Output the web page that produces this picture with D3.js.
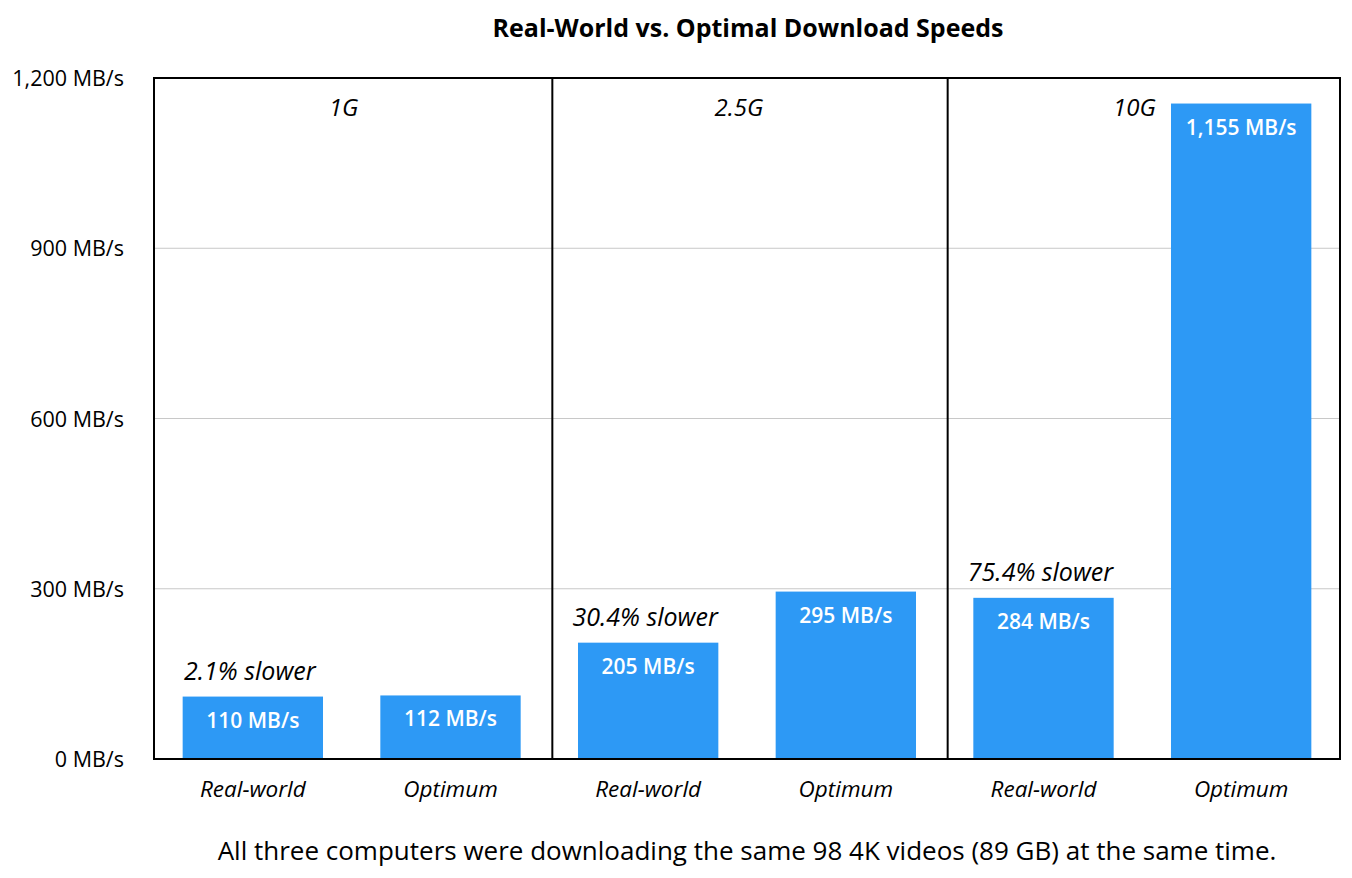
<!DOCTYPE html>
<html>
<body style="margin:0;background:#fff">
<div id="chart"></div>
<script src="https://d3js.org/d3.v7.min.js"></script>
<script>
// data
var categories = ["Real-world", "Optimum", "Real-world", "Optimum", "Real-world", "Optimum"];
var speeds = [110, 112, 205, 295, 284, 1155];
var groups = ["1G", "2.5G", "10G"];
var slowerNotes = ["2.1% slower", "30.4% slower", "75.4% slower"];
var yTicks = [0, 300, 600, 900, 1200];

var W = 1352, H = 878;
var m = { left: 154, right: 12, top: 78, bottom: 119 };
var font = "'Open Sans', sans-serif";

var svg = d3.select("#chart").append("svg")
    .attr("width", W).attr("height", H)
    .style("font-family", font);

var x = d3.scaleBand()
    .domain(d3.range(speeds.length))
    .range([m.left, W - m.right])
    .paddingInner(0.29)
    .paddingOuter(0.145);

var y = d3.scaleLinear()
    .domain([0, 1200])
    .range([H - m.bottom, m.top]);

var fmt = d3.format(",");

// gridlines
svg.selectAll(".grid").data(yTicks.slice(1, -1)).join("line")
    .attr("x1", m.left).attr("x2", W - m.right)
    .attr("y1", d => y(d)).attr("y2", d => y(d))
    .attr("stroke", "#c8c8c8").attr("stroke-width", 1);

// y tick labels
svg.selectAll(".ytick").data(yTicks).join("text")
    .attr("x", m.left - 30).attr("y", d => y(d) + 8)
    .attr("text-anchor", "end")
    .style("font-size", "21.5px")
    .text(d => fmt(d) + " MB/s");

// bars
svg.selectAll(".bar").data(speeds).join("rect")
    .attr("x", (d, i) => x(i))
    .attr("width", x.bandwidth())
    .attr("y", d => y(d))
    .attr("height", d => y(0) - y(d))
    .attr("fill", "#2d99f5");

svg.selectAll(".val").data(speeds).join("text")
    .attr("x", (d, i) => x(i) + x.bandwidth() / 2)
    .attr("y", d => y(d) + 31)
    .attr("text-anchor", "middle")
    .attr("fill", "#fff")
    .style("font-size", "21px").style("font-weight", "600")
    .text(d => fmt(d) + " MB/s");

// x labels
svg.selectAll(".xlab").data(categories).join("text")
    .attr("x", (d, i) => x(i) + x.bandwidth() / 2)
    .attr("y", H - m.bottom + 38)
    .attr("text-anchor", "middle")
    .style("font-size", "22.5px").style("font-style", "italic")
    .text(d => d);

// slower notes above real-world bars
svg.selectAll(".note").data(slowerNotes).join("text")
    .attr("x", (d, i) => x(i * 2) + x.bandwidth() / 2 - 3)
    .attr("y", (d, i) => y(speeds[i * 2]) - 17)
    .attr("text-anchor", "middle")
    .style("font-size", "25px").style("font-style", "italic")
    .text(d => d);

// group dividers + names
var step = x.step();
svg.selectAll(".div").data([1, 2]).join("line")
    .attr("x1", d => m.left + d * 2 * step + 3).attr("x2", d => m.left + d * 2 * step + 3)
    .attr("y1", m.top).attr("y2", y(0))
    .attr("stroke", "#000").attr("stroke-width", 2);

svg.selectAll(".grp").data(groups).join("text")
    .attr("x", (d, i) => m.left + (i * 2 + 1) * step - 8)
    .attr("y", m.top + 38)
    .attr("text-anchor", "middle")
    .style("font-size", "24px").style("font-style", "italic")
    .text(d => d);

// frame
svg.append("rect")
    .attr("x", m.left).attr("y", m.top)
    .attr("width", W - m.right - m.left).attr("height", y(0) - m.top)
    .attr("fill", "none").attr("stroke", "#000").attr("stroke-width", 2);

// title + footnote
svg.append("text")
    .attr("x", 748).attr("y", 37)
    .attr("text-anchor", "middle")
    .style("font-size", "25px").style("font-weight", "bold")
    .text("Real-World vs. Optimal Download Speeds");

svg.append("text")
    .attr("x", 747).attr("y", 860)
    .attr("text-anchor", "middle")
    .style("font-size", "26px")
    .text("All three computers were downloading the same 98 4K videos (89 GB) at the same time.");
</script>
</body>
</html>
